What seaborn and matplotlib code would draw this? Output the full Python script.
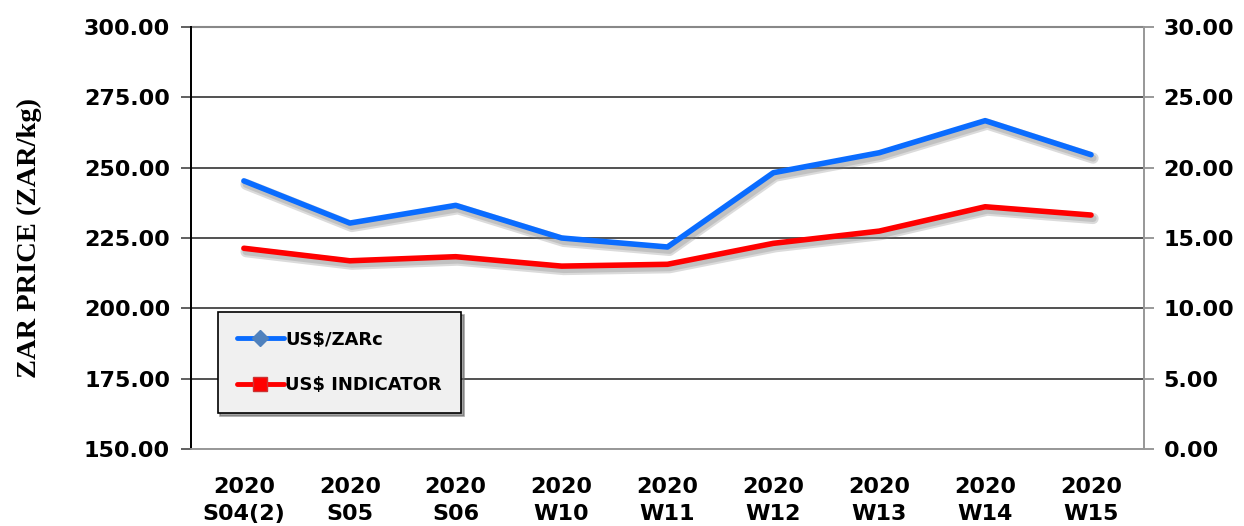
import numpy as np
import pandas as pd
import matplotlib
matplotlib.use("Agg")
import matplotlib.pyplot as plt
import matplotlib.patheffects as pe
from matplotlib.lines import Line2D
import seaborn as sns

# data
weeks = ["2020\nS04(2)", "2020\nS05", "2020\nS06", "2020\nW10", "2020\nW11",
         "2020\nW12", "2020\nW13", "2020\nW14", "2020\nW15"]
zar_price = [245.3, 230.3, 236.6, 225.0, 221.8, 248.2, 255.3, 266.7, 254.6]  # left axis
usd_indicator = [14.27, 13.38, 13.67, 13.00, 13.13, 14.62, 15.49, 17.22, 16.63]  # right axis

df = pd.DataFrame({"pos": range(len(weeks)), "zar": zar_price, "usd": usd_indicator})

sns.set_style("white")
plt.rcParams['font.family'] = ['DejaVu Sans']
plt.rcParams['text.color'] = 'black'
plt.rcParams['xtick.color'] = 'black'
plt.rcParams['ytick.color'] = 'black'
plt.rcParams['axes.labelcolor'] = 'black'

fig = plt.figure(figsize=(12.44, 5.26), dpi=100)
ax = fig.add_axes([0.1535, 0.1464, 0.9196 - 0.1535, 0.9487 - 0.1464])
ax2 = ax.twinx()

shadow = [pe.SimpleLineShadow(offset=(1.5, -2.5), shadow_color='#888888', alpha=0.3, linewidth=8),
          pe.SimpleLineShadow(offset=(1.5, -2.5), shadow_color='#888888', alpha=0.3, linewidth=5),
          pe.Normal()]

sns.lineplot(data=df, x="pos", y="zar", ax=ax, color="#0a6cff", linewidth=4,
             path_effects=shadow, zorder=3)
sns.lineplot(data=df, x="pos", y="usd", ax=ax2, color="#ff0000", linewidth=4,
             path_effects=shadow, zorder=3)

ax.set_xlim(-0.5, len(weeks) - 0.5)
ax.set_ylim(150, 300)
ax2.set_ylim(0, 30)
ax.set_yticks(np.arange(150, 301, 25))
ax2.set_yticks(np.arange(0, 31, 5))
ax.set_yticklabels(["%.2f" % v for v in np.arange(150, 301, 25)])
ax2.set_yticklabels(["%.2f" % v for v in np.arange(0, 31, 5)])

ax.set_xticks(range(len(weeks)))
ax.set_xticklabels(weeks, linespacing=1.45)
ax.set_xticks(np.arange(-0.5, len(weeks), 1), minor=True)
ax.tick_params(axis='x', which='major', length=0, pad=20)
ax.tick_params(axis='x', which='minor', length=7, color='#888888', width=1.2)
ax.tick_params(axis='y', length=7, color='#444444', width=1.2, pad=8)
ax2.tick_params(axis='y', length=7, color='#888888', width=1.2, pad=7)

for lab in ax.get_xticklabels() + ax.get_yticklabels() + ax2.get_yticklabels():
    lab.set_fontweight('bold')
    lab.set_fontsize(16)

ax.grid(axis='y', color='#222222', linewidth=1.1)
ax.set_xlabel("")
ax2.set_xlabel("")
ax2.set_ylabel("")
ax.set_ylabel("ZAR PRICE (ZAR/kg)", family=['Liberation Serif'], fontweight='bold',
              fontsize=20.5, labelpad=30)

for a in (ax, ax2):
    a.spines['top'].set_visible(False)
    a.spines['left'].set_color('black')
    a.spines['left'].set_linewidth(1.3)
    a.spines['right'].set_color('#999999')
    a.spines['right'].set_linewidth(1.3)
    a.spines['bottom'].set_color('#999999')
    a.spines['bottom'].set_linewidth(1.3)
# top border line in gray
ax.axhline(300, color='#888888', linewidth=1.5, clip_on=False)

handles = [Line2D([], [], color="#0a6cff", linewidth=3.5, marker='D', markersize=8,
                  markerfacecolor='#4f81bd', markeredgecolor='#4f81bd'),
           Line2D([], [], color="#ff0000", linewidth=3.5, marker='s', markersize=10,
                  markerfacecolor='#ff0000', markeredgecolor='#cc3333')]
leg = ax2.legend(handles, [r"US\$/ZARc", r"US\$ INDICATOR"], loc='upper left',
                 bbox_to_anchor=(0.028, 0.325), borderaxespad=0, frameon=True,
                 fancybox=False, shadow={'color': '#666666', 'alpha': 0.6},
                 handlelength=2.6, handletextpad=0.1, labelspacing=1.5,
                 borderpad=1.05, prop={'weight': 'bold', 'size': 13})
leg.get_frame().set_facecolor('#f0f0f0')
leg.get_frame().set_edgecolor('black')
leg.get_frame().set_linewidth(1.2)
leg.set_zorder(10)

fig.savefig("out.png", dpi=100)
